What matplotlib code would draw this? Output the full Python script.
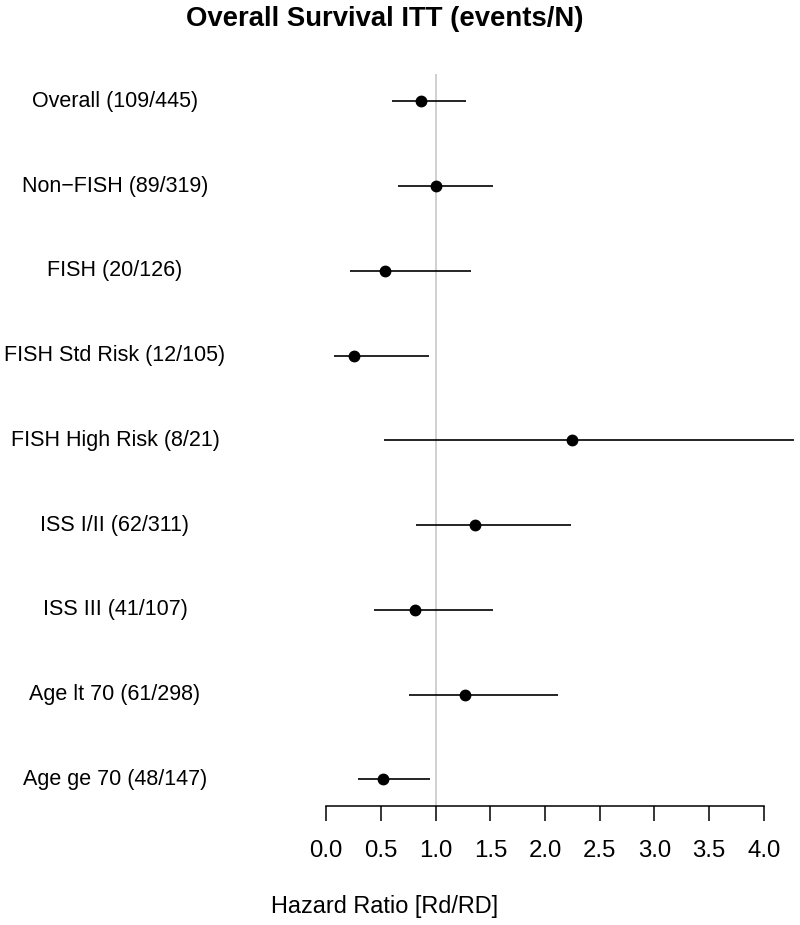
import matplotlib
matplotlib.use("Agg")
import matplotlib.pyplot as plt
import matplotlib.transforms as mtransforms

plt.rcParams['font.family'] = ['Liberation Sans', 'DejaVu Sans']

labels = ["Overall (109/445)", "Non\u2212FISH (89/319)", "FISH (20/126)",
          "FISH Std Risk (12/105)", "FISH High Risk (8/21)", "ISS I/II (62/311)",
          "ISS III (41/107)", "Age lt 70 (61/298)", "Age ge 70 (48/147)"]
hr = [0.87, 1.00, 0.54, 0.25, 2.25, 1.36, 0.81, 1.27, 0.52]
lo = [0.60, 0.66, 0.22, 0.07, 0.53, 0.82, 0.44, 0.76, 0.29]
hi = [1.28, 1.52, 1.32, 0.94, 4.28, 2.24, 1.52, 2.12, 0.95]
xticks = [0.0, 0.5, 1.0, 1.5, 2.0, 2.5, 3.0, 3.5, 4.0]
xticklabels = ["0.0", "0.5", "1.0", "1.5", "2.0", "2.5", "3.0", "3.5", "4.0"]

W, H = 800, 925
fig = plt.figure(figsize=(W / 100, H / 100), dpi=100)

x0px = 326.3
scale = 109.35
xmax = 4.3
ytop_px, ybot_px = 74.0, 806.0
ax = fig.add_axes([x0px / W, 1 - ybot_px / H, xmax * scale / W, (ybot_px - ytop_px) / H])

n = len(labels)
ypos = list(range(n, 0, -1))
ax.set_xlim(0, xmax)
ax.set_ylim(1 - (ybot_px - 779.3) / 84.75, n + (101.3 - ytop_px) / 84.75)

ax.axvline(1.0, color='#c4c4c4', lw=1.1, zorder=1)
for y, l, h in zip(ypos, lo, hi):
    ax.plot([l, h], [y, y], color='black', lw=1.2, solid_capstyle='butt', zorder=2)
ax.plot(hr, ypos, 'o', color='black', ms=7.5, zorder=3)

for s in ['top', 'right', 'left']:
    ax.spines[s].set_visible(False)
ax.spines['bottom'].set_bounds(0, 4)
ax.spines['bottom'].set_linewidth(1.1)
ax.set_yticks([])
ax.set_xticks(xticks)
ax.set_xticklabels(xticklabels, fontsize=17.3)
ax.tick_params(axis='x', direction='out', length=10.5, width=1.1, pad=14)

trans = mtransforms.blended_transform_factory(fig.transFigure, ax.transData)
for y, lab in zip(ypos, labels):
    ax.text(115 / W, y, lab, transform=trans, ha='center', va='center', fontsize=15.5)

fig.text(384.5 / W, 1 - 25.5 / H, "Overall Survival ITT (events/N)", ha='center',
         va='baseline', fontsize=19.8, fontweight='bold')
fig.text(384.5 / W, 1 - 913 / H, "Hazard Ratio [Rd/RD]", ha='center',
         va='baseline', fontsize=16.9)

fig.savefig("out.png", dpi=100)
